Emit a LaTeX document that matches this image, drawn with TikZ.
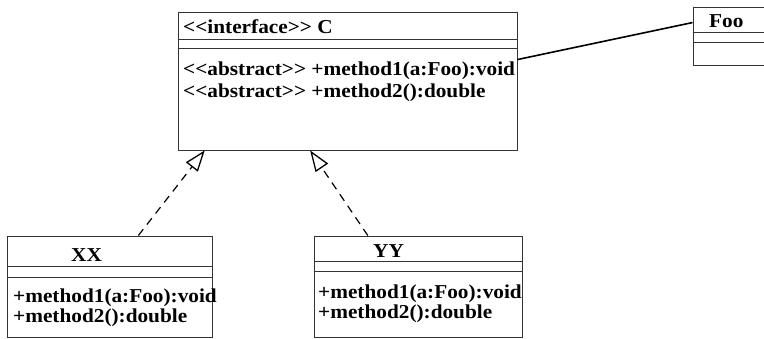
\documentclass[tikz,border=0pt]{standalone}
\usepackage{fontspec}
\setmainfont{Liberation Serif}[FakeStretch=1.08]
\usetikzlibrary{arrows.meta, positioning, calc}
\definecolor{umlline}{HTML}{333333}

% guillemet-free double angle brackets
\newcommand{\ltlt}{<\kern0pt<}
\newcommand{\gtgt}{>\kern0pt>}

\begin{document}
\begin{tikzpicture}[
  x=1pt, y=-1pt,
  cls/.style={rectangle, draw=umlline, line width=0.9pt, inner sep=0pt},
  sep/.style={draw=umlline, line width=0.9pt},
  txt/.style={font=\rmfamily\fontsize{19.7}{22}\selectfont\bfseries, anchor=base west, inner sep=0pt},
  realize/.style={draw=black, line width=1.2pt, dash pattern=on 8pt off 6pt,
    -{Triangle[open, length=21pt, width=15pt, line width=1.3pt]}},
  assoc/.style={draw=black, line width=1.6pt},
]

\useasboundingbox (0,0) rectangle (764,338);

% === Interface C ===
\node[cls, minimum width=339pt, minimum height=138pt] (C) at (347.5,81) {};
\draw[sep] ($(C.north west)+(0,28)$) -- ($(C.north east)+(0,28)$);
\draw[sep] ($(C.north west)+(0,37)$) -- ($(C.north east)+(0,37)$);
\node[txt] (Ctitle) at (183,33) {\ltlt interface\gtgt{} C};
\node[txt] (Cm1) at (183,75) {\ltlt abstract\gtgt{} +method1(a:Foo):void};
\node[txt] (Cm2) at (183,97) {\ltlt abstract\gtgt{} +method2():double};

% === Class Foo (cut at the right edge) ===
\node[cls, minimum width=82pt, minimum height=58pt] (Foo) at (734,36) {};
\draw[sep] ($(Foo.north west)+(0,26)$) -- ($(Foo.north east)+(0,26)$);
\draw[sep] ($(Foo.north west)+(0,36)$) -- ($(Foo.north east)+(0,36)$);
\node[txt] (Footitle) at (709,27) {Foo};

% === Class XX ===
\node[cls, minimum width=205pt, minimum height=101pt] (XX) at (109.5,286.5) {};
\draw[sep] ($(XX.north west)+(0,31)$) -- ($(XX.north east)+(0,31)$);
\draw[sep] ($(XX.north west)+(0,42)$) -- ($(XX.north east)+(0,42)$);
\node[txt] (XXtitle) at (71,261) {XX};
\node[txt] (XXm1) at (13,302) {+method1(a:Foo):void};
\node[txt] (XXm2) at (13,322) {+method2():double};

% === Class YY ===
\node[cls, minimum width=208pt, minimum height=101pt] (YY) at (418,286.5) {};
\draw[sep] ($(YY.north west)+(0,26)$) -- ($(YY.north east)+(0,26)$);
\draw[sep] ($(YY.north west)+(0,36)$) -- ($(YY.north east)+(0,36)$);
\node[txt] (YYtitle) at (373,257) {YY};
\node[txt] (YYm1) at (318,298) {+method1(a:Foo):void};
\node[txt] (YYm2) at (318,318) {+method2():double};

% === Connectors ===
\coordinate (CxxIn) at ($(C.south west)!0.08!(C.south east)$);
\coordinate (CyyIn) at ($(C.south west)!0.39!(C.south east)$);
\coordinate (XXout) at ($(XX.north west)!0.64!(XX.north east)$);
\coordinate (YYout) at ($(YY.north west)!0.26!(YY.north east)$);
\coordinate (Cside) at ($(C.north east)+(0,48)$);
\coordinate (Fooside) at ($(Foo.north west)+(0,16)$);

\draw[realize] (XXout) -- (CxxIn);
\draw[realize] (YYout) -- (CyyIn);
\draw[assoc] (Cside) -- (Fooside);

\end{tikzpicture}
\end{document}
